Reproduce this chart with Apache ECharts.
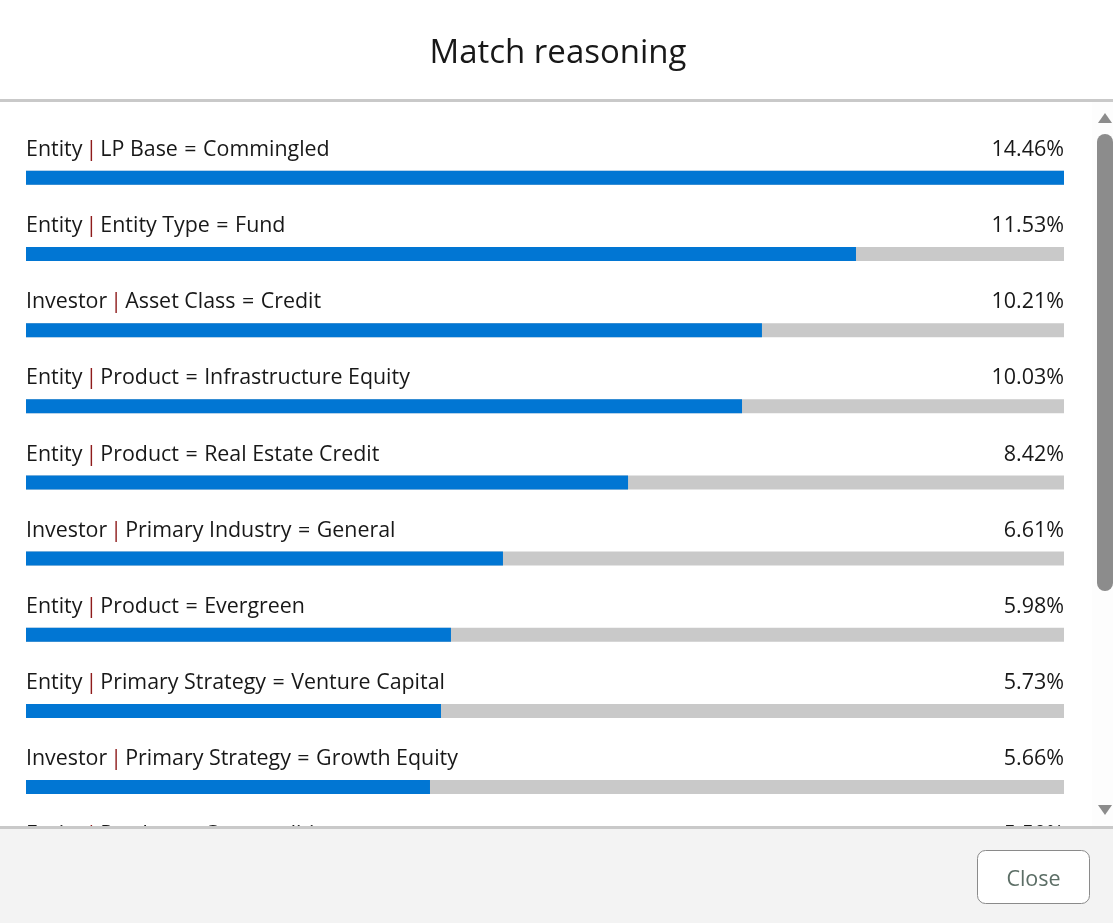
<!DOCTYPE html>
<html lang="en">
<head>
    <meta charset="UTF-8">
    <title>Match reasoning</title>
    <script src="https://cdn.jsdelivr.net/npm/echarts@6/dist/echarts.min.js"></script>
    <style>
        body { margin: 0; padding: 0; background: #fff; }
        #chart { width: 1113px; height: 923px; }
    </style>
</head>
<body>
    <div id="chart"></div>
    <script>
        const rowLabels = [
            'Entity | LP Base = Commingled',
            'Entity | Entity Type = Fund',
            'Investor | Asset Class = Credit',
            'Entity | Product = Infrastructure Equity',
            'Entity | Product = Real Estate Credit',
            'Investor | Primary Industry = General',
            'Entity | Product = Evergreen',
            'Entity | Primary Strategy = Venture Capital',
            'Investor | Primary Strategy = Growth Equity',
            'Entity | Product = Commodities'
        ];
        const percentLabels = ['14.46%', '11.53%', '10.21%', '10.03%', '8.42%', '6.61%', '5.98%', '5.73%', '5.66%', '5.50%'];
        // filled share of each grey track
        const fillShare = [100, 79.96, 70.9, 68.98, 58, 45.95, 40.94, 39.98, 38.92, 38];
        const trackShare = [100, 100, 100, 100, 100, 100, 100, 100, 100, 100];

        const FONT = '"Open Sans", sans-serif';
        const chart = echarts.init(document.getElementById('chart'), null, { renderer: 'canvas' });

        chart.setOption({
            animation: false,
            title: {
                text: 'Match reasoning',
                left: 553,
                top: 49,
                textAlign: 'center',
                textVerticalAlign: 'middle',
                textStyle: { fontFamily: FONT, fontSize: 33, fontWeight: 'normal', color: '#181818' }
            },
            grid: { left: 26, width: 1038, top: 139.75, height: 761.5 },
            xAxis: { type: 'value', min: 0, max: 100, show: false },
            yAxis: { type: 'category', inverse: true, data: rowLabels, show: false },
            series: [
                {
                    name: 'track',
                    type: 'bar',
                    data: trackShare,
                    barWidth: 14,
                    barGap: '-100%',
                    itemStyle: { color: '#c9c9c9' },
                    label: {
                        show: true,
                        position: [1038, -21],
                        align: 'right',
                        verticalAlign: 'middle',
                        fontFamily: FONT,
                        fontSize: 21.5,
                        color: '#181818',
                        formatter: p => percentLabels[p.dataIndex]
                    }
                },
                {
                    name: 'fill',
                    type: 'bar',
                    data: fillShare,
                    barWidth: 14,
                    itemStyle: { color: '#0176d3' },
                    label: {
                        show: true,
                        position: [0, -21],
                        align: 'left',
                        verticalAlign: 'middle',
                        fontFamily: FONT,
                        fontSize: 21.4,
                        color: '#181818',
                        // the reference sets the pipe tighter and the equals sign wider than this font does
                        formatter: p => p.name
                            .replace(' | ', '{thin| }{sep||}{thin| }')
                            .replace(' = ', '{wide| }={wide| }'),
                        rich: {
                            sep: { fontFamily: FONT, fontSize: 21.4, color: '#8e1b1b' },
                            thin: { fontFamily: FONT, fontSize: 12 },
                            wide: { fontFamily: FONT, fontSize: 25 }
                        }
                    }
                }
            ],
            graphic: [
                // header rule
                { type: 'rect', z: 100, shape: { x: 0, y: 99, width: 1113, height: 3 }, style: { fill: '#c9c9c9' } },
                // scrollbar
                { type: 'rect', z: 100, shape: { x: 1092, y: 102, width: 21, height: 724 }, style: { fill: '#fdfdfd' } },
                { type: 'rect', z: 101, shape: { x: 1097, y: 134, width: 16, height: 457, r: 8 }, style: { fill: '#8c8c8c' } },
                { type: 'polygon', z: 101, shape: { points: [[1105, 113], [1112, 123], [1098, 123]] }, style: { fill: '#8c8c8c' } },
                { type: 'polygon', z: 101, shape: { points: [[1098, 805], [1112, 805], [1105, 815]] }, style: { fill: '#8c8c8c' } },
                // footer
                { type: 'rect', z: 100, shape: { x: 0, y: 826, width: 1113, height: 97 }, style: { fill: '#f3f3f3' } },
                { type: 'rect', z: 101, shape: { x: 0, y: 826, width: 1113, height: 3 }, style: { fill: '#c9c9c9' } },
                { type: 'rect', z: 101, shape: { x: 977.5, y: 850.5, width: 112, height: 53, r: 8 }, style: { fill: '#ffffff', stroke: '#8a8a8a', lineWidth: 1 } },
                { type: 'text', z: 102, x: 1033.5, y: 880, style: { text: 'Close', fontFamily: FONT, fontSize: 21.5, fill: '#5c6e66', textAlign: 'center', textVerticalAlign: 'middle' } }
            ]
        });
    </script>
</body>
</html>
